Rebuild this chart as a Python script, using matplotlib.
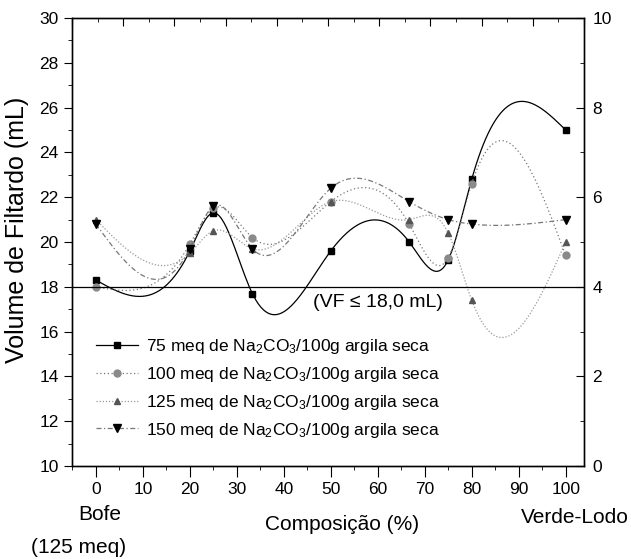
import numpy as np
import matplotlib.pyplot as plt
from matplotlib.ticker import MultipleLocator, NullFormatter

plt.rcParams['font.family'] = ['Liberation Sans', 'DejaVu Sans']
plt.rcParams['mathtext.fontset'] = 'custom'
plt.rcParams['mathtext.rm'] = 'Liberation Sans'
plt.rcParams['mathtext.it'] = 'Liberation Sans'

# composicao (%)
comp = [0, 20, 25, 33.3, 50, 66.7, 75, 80, 100]

# volume de filtrado (mL) por teor de Na2CO3
vf_75 = [18.3, 19.6, 21.3, 17.7, 19.6, 20.0, 19.2, 22.8, 25.0]
vf_100 = [18.0, 19.9, 21.5, 20.2, 21.8, 20.8, 19.3, 22.6, 19.4]
vf_125 = [21.0, 19.5, 20.5, 19.7, 21.8, 21.0, 20.4, 17.4, 20.0]
vf_150 = [20.8, 19.7, 21.6, 19.7, 22.4, 21.8, 21.0, 20.8, 21.0]

labels = ['75 meq de Na$_2$CO$_3$/100g argila seca',
          '100 meq de Na$_2$CO$_3$/100g argila seca',
          '125 meq de Na$_2$CO$_3$/100g argila seca',
          '150 meq de Na$_2$CO$_3$/100g argila seca']

limite = 18.0


def spline(x, y, n=400):
    """spline cubica natural (como a ligacao 'spline' do Origin)"""
    x = np.asarray(x, float)
    y = np.asarray(y, float)
    k = len(x)
    h = np.diff(x)
    A = np.zeros((k, k))
    b = np.zeros(k)
    A[0, 0] = A[-1, -1] = 1
    for i in range(1, k - 1):
        A[i, i - 1] = h[i - 1]
        A[i, i] = 2 * (h[i - 1] + h[i])
        A[i, i + 1] = h[i]
        b[i] = 6 * ((y[i + 1] - y[i]) / h[i] - (y[i] - y[i - 1]) / h[i - 1])
    M = np.linalg.solve(A, b)
    xs = np.linspace(x[0], x[-1], n)
    j = np.clip(np.searchsorted(x, xs) - 1, 0, k - 2)
    t0 = x[j + 1] - xs
    t1 = xs - x[j]
    hj = h[j]
    ys = (M[j] * t0**3 + M[j + 1] * t1**3) / (6 * hj) \
        + (y[j] / hj - M[j] * hj / 6) * t0 + (y[j + 1] / hj - M[j + 1] * hj / 6) * t1
    return xs, ys


fig = plt.figure(figsize=(6.31, 5.59), dpi=100)
ax = fig.add_axes([0.114, 0.1664, 0.8115, 0.8014])

series = [
    (vf_75, 's', 'black', 'black', '-', 5),
    (vf_100, 'o', '#8a8a8a', '#777777', (0, (1, 2)), 5),
    (vf_125, '^', '#555555', '#999999', (0, (1, 1.5)), 5),
    (vf_150, 'v', 'black', '#777777', (0, (4, 2, 1, 2)), 6),
]

for (vals, mk, mc, lc, ls, ms), lab in zip(series, labels):
    xs, ys = spline(comp, vals)
    ax.plot(xs, ys, color=lc, ls=ls, lw=0.9)
    ax.plot(comp, vals, ls='none', marker=mk, color=mc, ms=ms)
    # entrada da legenda
    ax.plot([], [], color=lc, ls=ls, lw=0.9, marker=mk, mfc=mc, mec=mc, ms=ms, label=lab)

ax.axhline(limite, color='black', lw=0.9)
ax.text(60, 17.3, '(VF ≤ 18,0 mL)', fontsize=14, ha='center', va='center')

ax.set_xlim(-5.1, 103.9)
ax.set_ylim(10, 30)
ax.set_xticks(range(0, 101, 10))
ax.xaxis.set_minor_locator(MultipleLocator(5))
ax.yaxis.set_major_locator(MultipleLocator(2))
ax.yaxis.set_minor_locator(MultipleLocator(1))
ax.tick_params(which='both', direction='out', labelsize=12.5)
ax.tick_params(which='major', length=6)
ax.tick_params(which='minor', length=3)
ax.tick_params(axis='x', which='major', length=8)

# eixo direito
ax2 = ax.twinx()
ax2.set_ylim(0, 10)
ax2.yaxis.set_major_locator(MultipleLocator(2))
ax2.yaxis.set_minor_locator(MultipleLocator(1))
ax2.tick_params(which='both', direction='in', labelsize=12.5, pad=6)
ax2.tick_params(which='major', length=6)
ax2.tick_params(which='minor', length=3)

# eixo superior (so marcas)
ax3 = ax.twiny()
ax3.set_xlim(0, 10)
ax3.xaxis.set_major_locator(MultipleLocator(1))
ax3.xaxis.set_minor_locator(MultipleLocator(0.5))
ax3.xaxis.set_major_formatter(NullFormatter())
ax3.tick_params(which='both', direction='in')
ax3.tick_params(which='major', length=6)
ax3.tick_params(which='minor', length=3)

for a in (ax, ax2, ax3):
    for sp in a.spines.values():
        sp.set_linewidth(0.9)

ax.legend(loc='center left', bbox_to_anchor=(0.047, 0.173), frameon=False,
          fontsize=12.5, handlelength=2.4, handletextpad=0.5, labelspacing=0.5,
          borderpad=0, borderaxespad=0)

fig.text(0.027, 0.589, 'Volume de Filtardo (mL)', fontsize=18, rotation=90,
         ha='center', va='center')
fig.text(0.542, 0.061, 'Composição (%)', fontsize=15, ha='center', va='center')
fig.text(0.158, 0.079, 'Bofe', fontsize=15, ha='center', va='center')
fig.text(0.125, 0.021, '(125 meq)', fontsize=15, ha='center', va='center')
fig.text(0.911, 0.075, 'Verde-Lodo', fontsize=15, ha='center', va='center')

fig.savefig('out.png', dpi=100)
